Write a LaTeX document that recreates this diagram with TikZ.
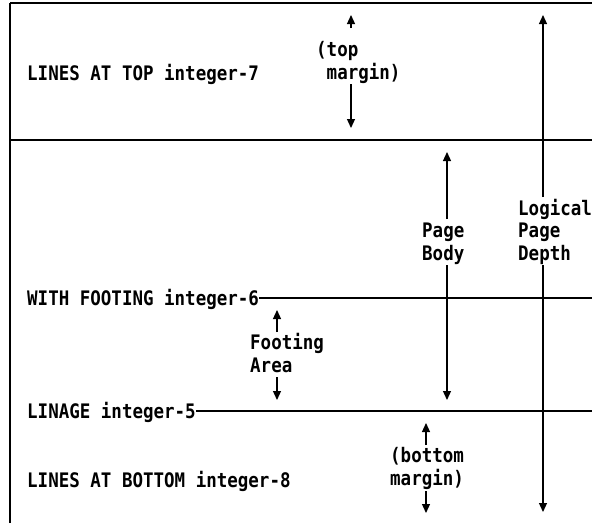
\documentclass[tikz,border=0pt]{standalone}
\usepackage{fontspec}
\setmonofont[FakeStretch=0.875]{DejaVu Sans Mono}
\usetikzlibrary{arrows.meta}
\tikzset{
  lbl/.style={font=\ttfamily\bfseries\fontsize{20}{22.5}\selectfont, inner sep=0pt, anchor=base west, align=left},
  arr/.style={line width=1.2pt, -{Triangle[width=8pt,length=9pt]}},
  rule/.style={line width=1.2pt},
  border/.style={line width=1.8pt},
}
\begin{document}
\begin{tikzpicture}[x=1pt,y=-1pt]
\useasboundingbox (0,0) rectangle (592,523);
% frame coordinates
\coordinate (TL) at (10,3);
\coordinate (BL) at (10,523);
\coordinate (TR) at (592,3);
\coordinate (R) at (592,0);
\coordinate (ML) at (10,140);
\coordinate (MR) at (592,140);
% frame
\draw[border] (BL) -- (TL);
\draw[rule] (TL) -- (TR);
\draw[rule] (ML) -- (MR);
% left labels
\node[lbl] (top) at (27,80) {LINES AT TOP integer-7};
\node[lbl] (wf) at (27,305) {WITH FOOTING integer-6};
\node[lbl] (lin) at (27,418) {LINAGE integer-5};
\node[lbl] (bot) at (27,487) {LINES AT BOTTOM integer-8};
\draw[rule] ([yshift=7pt]wf.base east) -- ([yshift=7pt]wf.base east -| R);
\draw[rule] ([yshift=7pt]lin.base east) -- ([yshift=7pt]lin.base east -| R);
% top margin
\node[lbl] (tm) at (316,79) {(top\\\ margin)};
\coordinate (tmA) at (351,15); \coordinate (tmB) at (351,28);
\coordinate (tmC) at (351,84); \coordinate (tmD) at (351,128);
\draw[arr] (tmB) -- (tmA);
\draw[arr] (tmC) -- (tmD);
% logical page depth
\node[lbl] (lpd) at (518,260) {Logical\\Page\\Depth};
\coordinate (lA) at (543,15); \coordinate (lB) at (543,197);
\coordinate (lC) at (543,265); \coordinate (lD) at (543,512);
\draw[arr] (lB) -- (lA);
\draw[arr] (lC) -- (lD);
% page body
\node[lbl] (pb) at (422,260) {Page\\Body};
\coordinate (pA) at (447,152); \coordinate (pB) at (447,219);
\coordinate (pC) at (447,265); \coordinate (pD) at (447,400);
\draw[arr] (pB) -- (pA);
\draw[arr] (pC) -- (pD);
% footing area
\node[lbl] (fa) at (250,372) {Footing\\Area};
\coordinate (fA) at (277,310); \coordinate (fB) at (277,332);
\coordinate (fC) at (277,377); \coordinate (fD) at (277,400);
\draw[arr] (fB) -- (fA);
\draw[arr] (fC) -- (fD);
% bottom margin
\node[lbl] (bm) at (390,485) {(bottom\\margin)};
\coordinate (bA) at (426,423); \coordinate (bB) at (426,445);
\coordinate (bC) at (426,491); \coordinate (bD) at (426,513);
\draw[arr] (bB) -- (bA);
\draw[arr] (bC) -- (bD);
\end{tikzpicture}
\end{document}
